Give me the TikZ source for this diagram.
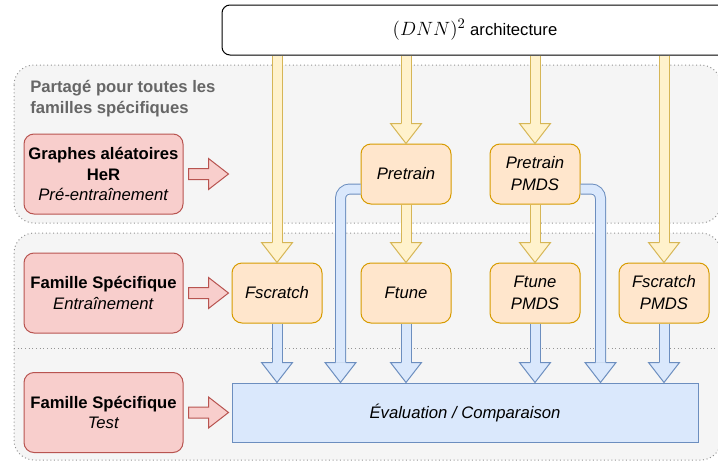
\documentclass[tikz,border=0pt]{standalone}
\usepackage{fontspec}
\setmainfont{Liberation Sans}
\usepackage{amsmath}

\definecolor{redfill}{HTML}{F8CECC}
\definecolor{redline}{HTML}{B85450}
\definecolor{orangefill}{HTML}{FFE6CC}
\definecolor{orangeline}{HTML}{D79B00}
\definecolor{yellowfill}{HTML}{FFF2CC}
\definecolor{yellowline}{HTML}{D6B656}
\definecolor{bluefill}{HTML}{DAE8FC}
\definecolor{blueline}{HTML}{6C8EBF}
\definecolor{grayfill}{HTML}{F5F5F5}
\definecolor{grayline}{HTML}{666666}

\begin{document}
\begin{tikzpicture}[x=0.75pt, y=-0.75pt,
    every node/.style={font=\fontsize{12.5}{15.5}\selectfont},
    region/.style={fill=grayfill, draw=grayline!70, dotted, line width=0.75pt, rounded corners=15pt},
    redbox/.style={rectangle, rounded corners=7.5pt, fill=redfill, draw=redline, line width=0.75pt,
        minimum width=119.25pt, minimum height=60pt, align=center},
    modelbox/.style={rectangle, rounded corners=7.5pt, fill=orangefill, draw=orangeline, line width=0.75pt,
        minimum width=67.5pt, minimum height=45pt, align=center, font=\fontsize{12.5}{16.5}\selectfont\itshape},
    evalbox/.style={rectangle, fill=bluefill, draw=blueline, line width=0.75pt,
        minimum width=349.5pt, minimum height=44.25pt, font=\fontsize{12.5}{15}\selectfont\itshape},
    archbox/.style={rectangle, rounded corners=6pt, fill=white, draw=black, line width=0.75pt,
        minimum width=379.5pt, minimum height=37.5pt},
    yshaft/.style={draw=yellowline, line width=0.75pt, double=yellowfill, double distance=6.75pt},
    bshaft/.style={draw=blueline, line width=0.75pt, double=bluefill, double distance=6.75pt, rounded corners=7pt},
    yhead/.style={fill=yellowfill, draw=yellowline, line width=0.75pt, line join=miter},
    bhead/.style={fill=bluefill, draw=blueline, line width=0.75pt, line join=miter},
    redarrow/.style={fill=redfill, draw=redline, line width=0.75pt, line join=miter},
    dhead/.pic={\path[pic actions] (-5,-20) -- (-15.5,-20) -- (0,0) -- (15.5,-20) -- (5,-20);},
    rarrow/.pic={\path[pic actions] (-40,-5.5) -- (-20,-5.5) -- (-20,-15.5) -- (0,0) -- (-20,15.5) -- (-20,5.5) -- (-40,5.5) -- cycle;}
]
\useasboundingbox (0,0) rectangle (718,461);

\draw[region] (14,65) rectangle (721,223);
\draw[region] (14,233) rectangle (721,460);
\draw[grayline!70, dotted, line width=0.75pt] (14,348) -- (721,348);

\node[anchor=west, inner sep=0pt, align=left, text=grayline, font=\fontsize{12.5}{15.75}\selectfont\bfseries]
    (shared) at (30,98.5) {Partagé pour toutes les\\familles spécifiques};

\node[redbox] (her) at (103.5,174) {\textbf{Graphes aléatoires}\\\textbf{HeR}\\\textit{Pré-entraînement}};
\node[redbox] (train) at (103.5,293) {\textbf{Famille Spécifique}\\\textit{Entraînement}};
\node[redbox] (test) at (103.5,412.5) {\textbf{Famille Spécifique}\\\textit{Test}};

\node[modelbox] (fscratch) at (277,293) {Fscratch};
\node[modelbox] (pretrain) at (406,174) {Pretrain};
\node[modelbox] (pretrainpmds) at (535,174) {Pretrain\\PMDS};
\node[modelbox] (ftune) at (406,293) {Ftune};
\node[modelbox] (ftunepmds) at (535,293) {Ftune\\PMDS};
\node[modelbox] (fscratchpmds) at (664,293) {Fscratch\\PMDS};

\node[evalbox] (eval) at (465,412.5) {Évaluation / Comparaison};
\node[archbox] (archi) at (475,30) {{\fontsize{15}{18}\selectfont$(DNN)^2$} architecture};

\foreach \m in {fscratch, pretrain, pretrainpmds, fscratchpmds} {
    \draw[yshaft] (archi.south -| \m.north) -- ([yshift=15pt]\m.north);
    \pic[yhead] at (\m.north) {dhead};
}
\foreach \a/\b in {pretrain/ftune, pretrainpmds/ftunepmds} {
    \draw[yshaft] (\a.south) -- ([yshift=15pt]\b.north);
    \pic[yhead] at (\b.north) {dhead};
}
\foreach \m in {fscratch, ftune, ftunepmds, fscratchpmds} {
    \draw[bshaft] (\m.south) -- ([yshift=15pt]eval.north -| \m.south);
    \pic[bhead] at (eval.north -| \m.south) {dhead};
}
\draw[bshaft] ([yshift=-11.25pt]pretrain.west) -| ([xshift=-15pt,yshift=15pt]pretrain.west |- eval.north);
\pic[bhead] at ([xshift=-15pt]pretrain.west |- eval.north) {dhead};
\draw[bshaft] ([yshift=-11.25pt]pretrainpmds.east) -| ([xshift=15pt,yshift=15pt]pretrainpmds.east |- eval.north);
\pic[bhead] at ([xshift=15pt]pretrainpmds.east |- eval.north) {dhead};

\foreach \r in {her, train, test} {
    \pic[redarrow] at ([xshift=33.75pt]\r.east) {rarrow};
}
\end{tikzpicture}
\end{document}
